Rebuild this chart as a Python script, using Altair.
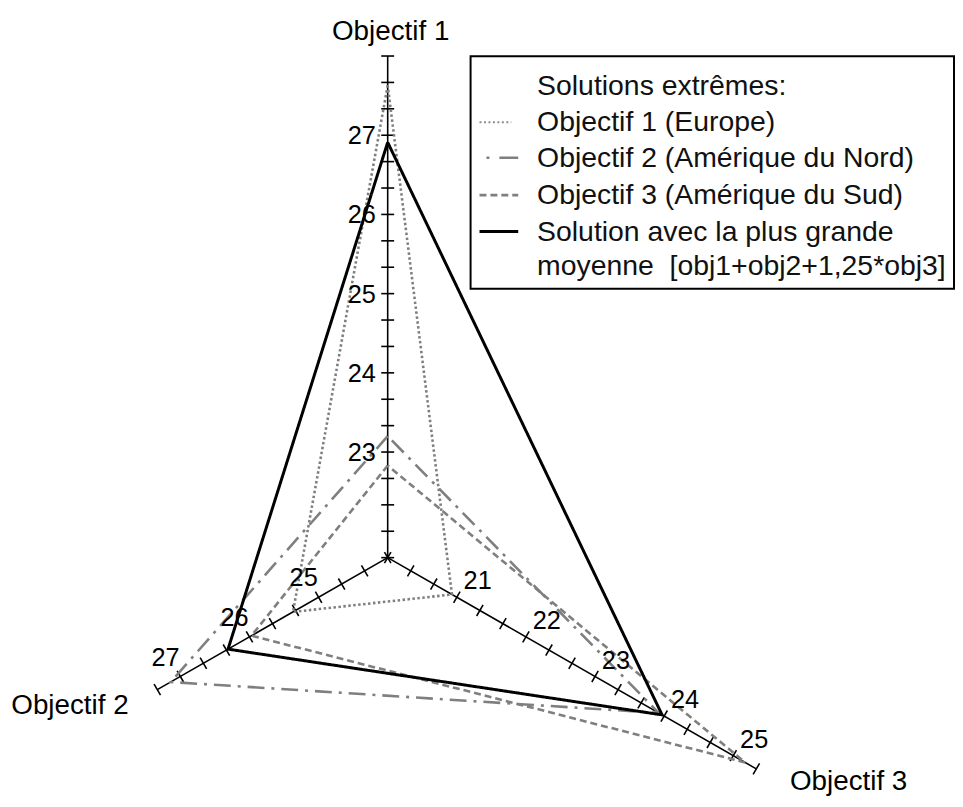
import math
import altair as alt
import pandas as pd

# ---------------- data ----------------
axis_names = ["Objectif 1", "Objectif 2", "Objectif 3"]
axis_min = [21 + 2 / 3, 24.0, 20.0]
axis_max = [28.0, 27 + 1 / 3, 25 + 1 / 3]
axis_tick_labels = [[23, 24, 25, 26, 27], [25, 26, 27], [21, 22, 23, 24, 25]]

series_names = [
    "Objectif 1 (Europe)",
    "Objectif 2 (Amérique du Nord)",
    "Objectif 3 (Amérique du Sud)",
    "Solution avec la plus grande moyenne",
]
europe = [27.63, 25.37, 20.93]
amerique_nord = [23.20, 27.14, 23.92]
amerique_sud = [22.83, 25.97, 25.17]
meilleure_moyenne = [26.91, 26.31, 23.97]
series_values = [europe, amerique_nord, amerique_sud, meilleure_moyenne]

legend_title = "Solutions extrêmes:"
legend_labels = [
    "Objectif 1 (Europe)",
    "Objectif 2 (Amérique du Nord)",
    "Objectif 3 (Amérique du Sud)",
    "Solution avec la plus grande",
    "moyenne\u00a0 [obj1+obj2+1,25*obj3]",
]

# ---------------- geometry / styles ----------------
W, H = 954, 791
CX, CY = 390.5, 563.0
UNIT = 80.4
c30 = math.cos(math.radians(30))
DIRS = [(0.0, -1.0), (-c30, 0.5), (c30, 0.5)]
FONT = "Liberation Sans"
GRAY = "#7f7f7f"

styles = [
    dict(color=GRAY, dash=[2.5, 2.5], width=2.6),
    dict(color=GRAY, dash=[17, 7, 3, 7], width=2.6),
    dict(color=GRAY, dash=[7, 4], width=2.6),
    dict(color="#000000", dash=[1, 0], width=3),
]

xs = alt.Scale(domain=[8, 8 + W], nice=False, zero=False)
ys = alt.Scale(domain=[8 + H, 8], nice=False, zero=False)


def X(f):
    return alt.X(f, type="quantitative", scale=xs, axis=None)


def Y(f):
    return alt.Y(f, type="quantitative", scale=ys, axis=None)


def pos(k, v):
    t = (v - axis_min[k]) * UNIT
    return CX + t * DIRS[k][0], CY + t * DIRS[k][1]


# axis lines
axis_rows = []
for k in range(3):
    x0, y0 = pos(k, axis_min[k])
    x1, y1 = pos(k, axis_max[k])
    axis_rows.append(dict(x=x0, y=y0, x2=x1, y2=y1))

# ticks
tick_rows = []
HALF = 6.5
for k in range(3):
    n = int(round((axis_max[k] - axis_min[k]) * 3))
    px, py = -DIRS[k][1], DIRS[k][0]
    for i in range(n + 1):
        v = axis_min[k] + i / 3
        x, y = pos(k, v)
        tick_rows.append(dict(x=x - HALF * px, y=y - HALF * py, x2=x + HALF * px, y2=y + HALF * py))

axes_layer = alt.Chart(pd.DataFrame(axis_rows)).mark_rule(color="#000", strokeWidth=1.6).encode(
    x=X("x"), y=Y("y"), x2="x2", y2="y2")
ticks_layer = alt.Chart(pd.DataFrame(tick_rows)).mark_rule(color="#000", strokeWidth=1.6).encode(
    x=X("x"), y=Y("y"), x2="x2", y2="y2")

# tick labels
lab_rows = [[], [], []]
for k in range(3):
    for v in axis_tick_labels[k]:
        x, y = pos(k, v)
        lab_rows[k].append(dict(x=x, y=y, t=str(v)))

lab1 = alt.Chart(pd.DataFrame(lab_rows[0])).mark_text(
    font=FONT, fontSize=25.5, align="right", baseline="middle", dx=-12, dy=1, color="#000").encode(
    x=X("x"), y=Y("y"), text="t:N")
lab2 = alt.Chart(pd.DataFrame(lab_rows[1])).mark_text(
    font=FONT, fontSize=25.5, align="center", baseline="middle", dx=-15, dy=-19, color="#000").encode(
    x=X("x"), y=Y("y"), text="t:N")
lab3 = alt.Chart(pd.DataFrame(lab_rows[2])).mark_text(
    font=FONT, fontSize=25.5, align="center", baseline="middle", dx=21, dy=-16, color="#000").encode(
    x=X("x"), y=Y("y"), text="t:N")

# axis names
name_rows = []
ex1 = pos(0, axis_max[0])
ex2 = pos(1, axis_max[1])
ex3 = pos(2, axis_max[2])
name_rows.append(dict(x=ex1[0] + 3, y=ex1[1] - 24, t=axis_names[0]))
name_rows.append(dict(x=ex2[0] - 88, y=ex2[1] + 17, t=axis_names[1]))
name_rows.append(dict(x=ex3[0] + 93, y=ex3[1] + 13, t=axis_names[2]))
names_layer = alt.Chart(pd.DataFrame(name_rows)).mark_text(
    font=FONT, fontSize=28, align="center", baseline="middle", color="#000").encode(
    x=X("x"), y=Y("y"), text="t:N")

# polygons
poly_layers = []
for s, (name, vals) in enumerate(zip(series_names, series_values)):
    rows = []
    for i, k in enumerate([0, 1, 2, 0]):
        x, y = pos(k, vals[k])
        rows.append(dict(x=x, y=y, o=i, serie=name))
    st = styles[s]
    poly_layers.append(
        alt.Chart(pd.DataFrame(rows)).mark_line(
            color=st["color"], strokeDash=st["dash"], strokeWidth=st["width"],
            strokeJoin="miter", strokeCap="butt").encode(
            x=X("x"), y=Y("y"), order="o:Q"))

# legend
box = pd.DataFrame([dict(x=474, y=54, x2=961, y2=290)])
box_layer = alt.Chart(box).mark_rect(fill="white", stroke="#000", strokeWidth=2).encode(
    x=X("x"), y=Y("y"), x2="x2", y2="y2")

text_y = [84, 121, 157, 195, 232, 267]
leg_text = pd.DataFrame(
    [dict(x=541, y=text_y[0], t=legend_title)]
    + [dict(x=541, y=text_y[i + 1], t=legend_labels[i]) for i in range(5)])
leg_text_layer = alt.Chart(leg_text).mark_text(
    font=FONT, fontSize=28.6, align="left", baseline="middle", color="#111").encode(
    x=X("x"), y=Y("y"), text="t:N")

sym_layers = []
sym_specs = [
    (483, 515, text_y[1], dict(color="#8c8c8c", dash=[2, 2.5], width=2)),
    (490, 522, text_y[2], dict(color=GRAY, dash=[3, 10, 19, 100], width=2.6)),
    (483, 522, text_y[3], dict(color=GRAY, dash=[7, 4], width=2.6)),
    (483, 522, text_y[4], dict(color="#000", dash=[1, 0], width=3)),
]
for (xa, xb, yy, st) in sym_specs:
    d = pd.DataFrame([dict(x=xa, x2=xb, y=yy)])
    sym_layers.append(alt.Chart(d).mark_rule(
        color=st["color"], strokeDash=st["dash"], strokeWidth=st["width"], strokeCap="butt").encode(
        x=X("x"), x2="x2", y=Y("y")))

chart = alt.layer(
    axes_layer, ticks_layer, *poly_layers, lab1, lab2, lab3, names_layer,
    box_layer, leg_text_layer, *sym_layers
).properties(
    width=W, height=H, padding=0,
    autosize=alt.AutoSizeParams(type="fit", contains="padding"),
    background="white",
).configure_view(stroke=None)

chart.save("out.html", embed_options={"renderer": "svg", "actions": False})
